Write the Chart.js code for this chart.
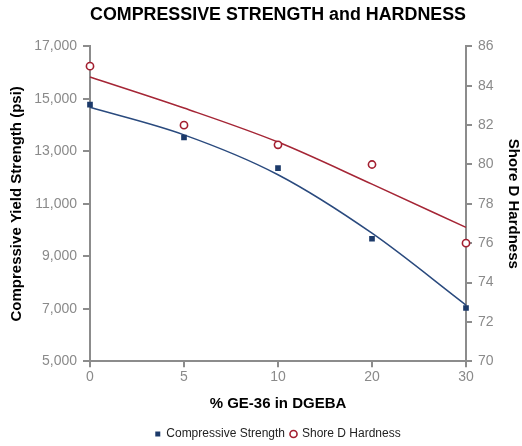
<!DOCTYPE html>
<html lang="en">
<head>
    <meta charset="UTF-8">
    <title>Compressive Strength and Hardness</title>
    <script src="https://cdn.jsdelivr.net/npm/chart.js"></script>
    <style>
        html, body { margin: 0; padding: 0; background: #fff; }
        #wrap { width: 522px; height: 446px; }
    </style>
</head>
<body>
    <div id="wrap"><canvas id="myChart"></canvas></div>

    <script>
        // % GE-36 in DGEBA
        const categories = ['0', '5', '10', '20', '30'];

        // measured points
        const compressiveStrength = [14780, 13530, 12360, 9670, 7030];
        const shoreHardness = [85, 82, 81, 80, 76];

        // trend lines
        const strengthTrend = [14680, 13630, 12110, 9880, 7140];
        const hardnessTrend = [84.45, 82.87, 81.14, 79.0, 76.8];

        const leftTicks = [5000, 7000, 9000, 11000, 13000, 15000, 17000];
        const rightTicks = [70, 72, 74, 76, 78, 80, 82, 84, 86];

        const blue = '#1c3a6a';
        const red = '#a31f30';
        const axisGrey = '#8c8c8c';
        const labelGrey = '#8a8a8a';

        Chart.defaults.font.family = '"Liberation Sans", Arial, sans-serif';

        // centre title and legend over the plot area, nudge legend down a bit
        const centreOnPlot = {
            id: 'centreOnPlot',
            afterLayout(chart) {
                const a = chart.chartArea;
                if (chart.titleBlock) {
                    chart.titleBlock.left = a.left;
                    chart.titleBlock.right = a.right;
                }
                if (chart.legend) {
                    const w = chart.legend.right - chart.legend.left;
                    const shift = (a.left + a.right) / 2 - (chart.legend.left + chart.legend.right) / 2;
                    chart.legend.left += shift;
                    chart.legend.right = chart.legend.left + w;
                    chart.legend.top += 4;
                    chart.legend.bottom += 4;
                }
            }
        };

        const ctx = document.getElementById('myChart').getContext('2d');
        new Chart(ctx, {
            type: 'line',
            data: {
                labels: categories,
                datasets: [
                    {
                        label: 'Compressive Strength',
                        data: compressiveStrength,
                        yAxisID: 'y',
                        showLine: false,
                        pointStyle: 'rect',
                        pointRadius: 4,
                        backgroundColor: blue,
                        borderColor: blue,
                        borderWidth: 0,
                        order: 1
                    },
                    {
                        label: 'Shore D Hardness',
                        data: shoreHardness,
                        yAxisID: 'y1',
                        showLine: false,
                        pointStyle: 'circle',
                        pointRadius: 3.6,
                        pointBorderWidth: 1.6,
                        borderWidth: 1.6,
                        backgroundColor: '#fff',
                        borderColor: red,
                        order: 0
                    },
                    {
                        label: 'strength trend',
                        data: strengthTrend,
                        yAxisID: 'y',
                        borderColor: '#2a4a7e',
                        borderWidth: 1.5,
                        pointRadius: 0,
                        cubicInterpolationMode: 'monotone',
                        order: 3
                    },
                    {
                        label: 'hardness trend',
                        data: hardnessTrend,
                        yAxisID: 'y1',
                        borderColor: '#a52636',
                        borderWidth: 1.5,
                        pointRadius: 0,
                        cubicInterpolationMode: 'monotone',
                        order: 3
                    }
                ]
            },
            options: {
                responsive: true,
                maintainAspectRatio: false,
                animation: false,
                layout: { padding: { top: 4, right: 0, bottom: 0, left: 8 } },
                plugins: {
                    title: {
                        display: true,
                        text: 'COMPRESSIVE STRENGTH and HARDNESS',
                        color: '#000',
                        font: { size: 18.3, weight: 'bold' },
                        padding: { top: 0, bottom: 20.5 }
                    },
                    legend: {
                        position: 'bottom',
                        labels: {
                            filter: item => item.datasetIndex < 2,
                            sort: (a, b) => a.datasetIndex - b.datasetIndex,
                            usePointStyle: true,
                            boxWidth: 5,
                            boxHeight: 5,
                            padding: 6,
                            color: '#222',
                            font: { size: 12 }
                        }
                    },
                    tooltip: { enabled: false }
                },
                scales: {
                    x: {
                        offset: false,
                        grid: {
                            drawOnChartArea: false,
                            drawTicks: true,
                            tickLength: 6,
                            color: axisGrey,
                            lineWidth: 2
                        },
                        border: { color: axisGrey, width: 2 },
                        ticks: { color: labelGrey, font: { size: 14 }, padding: 2, maxRotation: 0 },
                        title: {
                            display: true,
                            text: '% GE-36 in DGEBA',
                            color: '#000',
                            font: { size: 15, weight: 'bold' },
                            padding: { top: 7, bottom: 5 }
                        }
                    },
                    y: {
                        position: 'left',
                        min: 5000,
                        max: 17000,
                        afterBuildTicks: s => { s.ticks = leftTicks.map(v => ({ value: v })); },
                        grid: {
                            drawOnChartArea: false,
                            drawTicks: true,
                            tickLength: 7,
                            color: axisGrey,
                            lineWidth: 2
                        },
                        border: { color: axisGrey, width: 2 },
                        ticks: {
                            color: labelGrey,
                            font: { size: 14 },
                            padding: 6,
                            callback: v => v.toLocaleString('en-US')
                        },
                        title: {
                            display: true,
                            text: 'Compressive Yield Strength (psi)',
                            color: '#000',
                            font: { size: 15, weight: 'bold' },
                            padding: { top: 0, bottom: 4 }
                        },
                        afterFit: s => { s.width = 82; }
                    },
                    y1: {
                        position: 'right',
                        min: 70,
                        max: 86,
                        afterBuildTicks: s => { s.ticks = rightTicks.map(v => ({ value: v })); },
                        grid: {
                            drawOnChartArea: false,
                            drawTicks: true,
                            tickLength: 6,
                            color: axisGrey,
                            lineWidth: 2
                        },
                        border: { color: axisGrey, width: 2 },
                        ticks: { color: labelGrey, font: { size: 14 }, padding: 6 },
                        title: {
                            display: true,
                            text: 'Shore D Hardness',
                            color: '#000',
                            font: { size: 15, weight: 'bold' },
                            padding: { top: 0, bottom: 4 }
                        },
                        afterFit: s => { s.width = 56; }
                    }
                }
            },
            plugins: [centreOnPlot]
        });
    </script>
</body>
</html>
